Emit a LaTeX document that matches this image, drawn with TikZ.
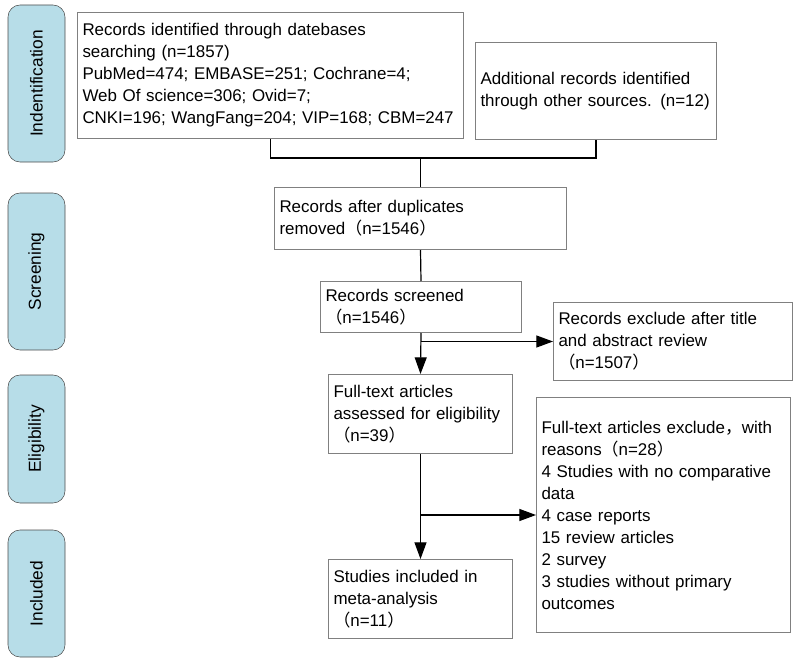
\documentclass[tikz,border=0pt]{standalone}
\usepackage{fontspec}
\setmainfont{Liberation Sans}
\newfontfamily\cjk{Noto Sans CJK SC}
\usepackage{tikz}
\usetikzlibrary{arrows.meta}

\newcommand{\lpar}{{\cjk （}}
\newcommand{\rpar}{{\cjk ）}}

\begin{document}
\begin{tikzpicture}[x=0.75pt, y=-0.75pt,
    stage/.style={draw=black!70, fill={rgb,255:red,183;green,221;blue,232}, rounded corners=9pt,
      rotate=90, minimum height=42.75pt, inner sep=0pt, font=\fontsize{13}{15}\selectfont},
    box/.style={draw=black!50, line width=0.75pt, anchor=north west, align=left,
      inner xsep=3.75pt, inner ysep=0pt, font=\fontsize{12.7}{16.5}\selectfont},
    link/.style={draw=black, line width=0.9pt},
    arr/.style={link, -{Triangle[length=12.5pt,width=9pt]}}]
    \useasboundingbox (0,0) rectangle (800,667);

    % Stage labels on the left
    \node[stage, minimum width=117.75pt] (ident) at (36.5,83.5) {Indentification};
    \node[stage, minimum width=117.75pt] (screen) at (36.5,271.5) {Screening};
    \node[stage, minimum width=96pt] (elig) at (36.5,439) {Eligibility};
    \node[stage, minimum width=95.25pt] (incl) at (36.5,593.5) {Included};

    % Identification boxes
    \node[box, text width=282pt, minimum height=94.5pt] (search) at (77,12)
      {Records identified through datebases\\ searching (n=1857)\\ PubMed=474; EMBASE=251; Cochrane=4;\\
       Web Of science=306; Ovid=7;\\ CNKI=196; WangFang=204; VIP=168; CBM=247};
    \node[box, text width=173.25pt, minimum height=72.75pt] (other) at (475,42)
      {Additional records identified\\ through other sources. (n=12)};

    % Screening boxes
    \node[box, text width=211.5pt, minimum height=46.5pt] (dedup) at (274,187)
      {Records after duplicates\\ removed\lpar n=1546\rpar};
    \node[box, text width=143.25pt, minimum height=38.25pt] (screened) at (320,281)
      {Records screened\\ \lpar n=1546\rpar};
    \node[box, text width=171.75pt, minimum height=58.5pt] (excl1) at (553,302)
      {Records exclude after title\\ and abstract review\\ \lpar n=1507\rpar};

    % Eligibility and included boxes
    \node[box, text width=130.5pt, minimum height=59.25pt] (fulltext) at (328,374)
      {Full-text articles\\ assessed for eligibility\\ \lpar n=39\rpar};
    \node[box, text width=183pt, minimum height=176.25pt] (excl2) at (536,397)
      {Full-text articles exclude{\cjk ，}with\\ reasons\lpar n=28\rpar\\ 4 Studies with no comparative\\ data\\
       4 case reports\\ 15 review articles\\ 2 survey\\ 3 studies without primary\\ outcomes};
    \node[box, text width=130.5pt, minimum height=59.25pt] (included) at (328,559)
      {Studies included in\\ meta-analysis\\ \lpar n=11\rpar};

    % Connectors
    \coordinate (merge) at (dedup.north |- 0,158);
    \draw[link] (search.south) |- (merge) -| (other.south);
    \draw[link] (merge) -- (dedup.north);
    \draw[link] (dedup.south) -- (screened.north);
    \draw[arr] (screened.south) -- (fulltext.north);
    \draw[arr] (screened.south |- excl1.west) -- (excl1.west);
    \draw[arr] (fulltext.south) -- (included.north);
    \draw[arr] (fulltext.south |- excl2.west) -- (excl2.west);
\end{tikzpicture}
\end{document}
